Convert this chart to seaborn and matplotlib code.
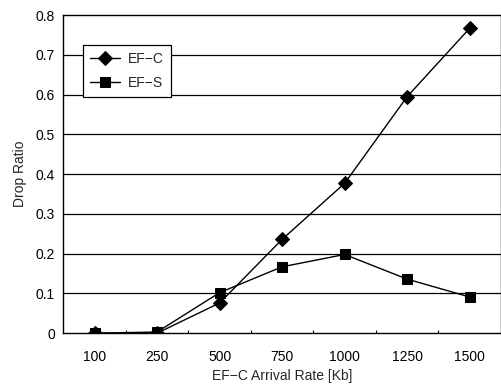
import matplotlib
matplotlib.use("Agg")
import matplotlib.pyplot as plt
import seaborn as sns
import pandas as pd
import numpy as np

rates = ["100", "250", "500", "750", "1000", "1250", "1500"]
ef_c = [0.0, 0.0, 0.076, 0.236, 0.377, 0.595, 0.767]
ef_s = [0.0, 0.003, 0.102, 0.167, 0.198, 0.136, 0.091]
series_names = ["EF\u2212C", "EF\u2212S"]
yticks = [0, 0.1, 0.2, 0.3, 0.4, 0.5, 0.6, 0.7, 0.8]
ytick_labels = ["0", "0.1", "0.2", "0.3", "0.4", "0.5", "0.6", "0.7", "0.8"]

df = pd.DataFrame({
    "rate": rates * 2,
    "ratio": ef_c + ef_s,
    "series": [series_names[0]] * len(rates) + [series_names[1]] * len(rates),
})

sns.set_style("white")
plt.rcParams["font.family"] = ["Liberation Sans", "DejaVu Sans"]

fig = plt.figure(figsize=(5.02, 3.87), dpi=100)
ax = fig.add_axes([0.126, 0.139, 0.872, 0.822])

sns.pointplot(data=df, x="rate", y="ratio", hue="series", order=rates,
              palette=["black", "black"], markers=["D", "s"],
              linestyles=["-", "-"], ax=ax, errorbar=None,
              markersize=7, linewidth=1.0)

ax.set_ylim(0, 0.8)
ax.set_yticks(yticks)
ax.set_yticklabels(ytick_labels)
ax.set_xlim(-0.5, len(rates) - 0.5)
for y in yticks[1:-1]:
    ax.axhline(y, color="black", lw=0.9, zorder=0)

for s in ax.spines.values():
    s.set_color("black")
    s.set_linewidth(1.0)

ax.set_xticks(np.arange(len(rates) - 1) + 0.5, minor=True)
ax.tick_params(axis="x", which="minor", direction="in", length=2.5,
               width=0.8, color="black", bottom=True)
ax.tick_params(axis="y", which="major", labelsize=10, colors="black", length=0, pad=6)
ax.tick_params(axis="x", which="major", labelsize=10, colors="black", length=0, pad=12)
ax.set_xlabel("EF\u2212C Arrival Rate [Kb]", fontsize=10, labelpad=4)
ax.set_ylabel("Drop Ratio", fontsize=10, labelpad=6)

leg = ax.legend(loc="upper left", bbox_to_anchor=(0.0457, 0.906), fontsize=10,
                frameon=True, fancybox=False, edgecolor="black",
                handlelength=2.15, handletextpad=0.58, borderpad=0.5,
                labelspacing=0.75, borderaxespad=0)
leg.get_frame().set_linewidth(0.9)
leg.get_frame().set_alpha(1)

fig.savefig("out.png", dpi=100)
